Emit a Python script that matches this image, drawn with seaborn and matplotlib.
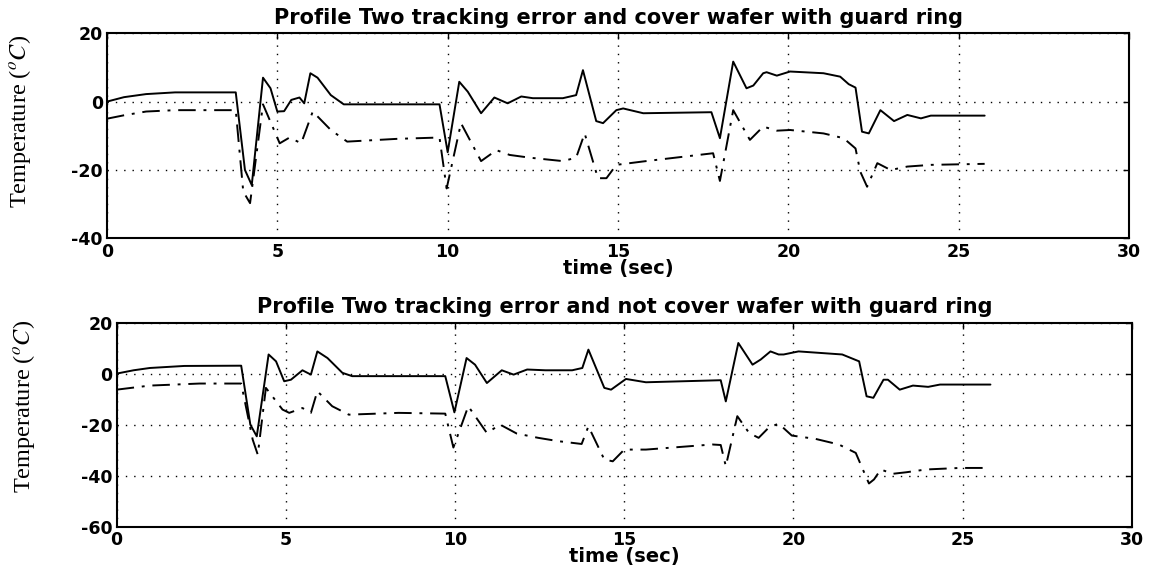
import numpy as np
import pandas as pd
import matplotlib
matplotlib.use("Agg")
import matplotlib.pyplot as plt
import seaborn as sns

# top panel: cover wafer with guard ring
top_solid_t = [0, 0.5, 1.15, 2.0, 3.78, 4.05, 4.25, 4.58, 4.8, 5.0, 5.2, 5.41, 5.65, 5.79, 5.97,
               6.18, 6.57, 6.95, 8.5, 9.76, 10.0, 10.34, 10.59, 10.98, 11.37, 11.76, 12.16, 12.5,
               13.38, 13.77, 13.97, 14.36, 14.56, 14.95, 15.15, 15.74, 17.74, 17.99, 18.38, 18.77,
               18.97, 19.26, 19.36, 19.66, 20.05, 21.03, 21.52, 21.77, 21.97, 22.16, 22.36, 22.7,
               23.1, 23.49, 23.89, 24.18, 25.76]
top_solid_v = [0, 1.3, 2.2, 2.7, 2.7, -20, -24.4, 7.0, 3.9, -2.9, -2.8, 0.5, 1.2, -0.5, 8.3,
               7.0, 1.9, -0.8, -0.8, -0.8, -14.8, 5.8, 2.9, -3.4, 1.2, -0.5, 1.5, 1.0,
               1.0, 1.9, 9.2, -5.7, -6.3, -2.5, -2.0, -3.4, -3.1, -10.7, 11.7, 3.9,
               4.7, 8.3, 8.6, 7.6, 8.8, 8.3, 7.3, 5.1, 4.1, -8.8, -9.3, -2.5,
               -5.7, -3.9, -4.9, -4.1, -4.1]

top_dash_t = [0, 0.5, 1.15, 2.0, 3.78, 4.0, 4.2, 4.58, 5.07, 5.36, 5.7, 6.04, 6.57, 7.05, 8.5,
              9.76, 9.97, 10.39, 10.98, 11.43, 11.82, 12.41, 13.38, 13.77, 14.02, 14.41, 14.66,
              14.95, 15.74, 17.79, 17.99, 18.38, 18.87, 19.26, 19.66, 20.05, 21.03, 21.62, 21.97,
              22.11, 22.31, 22.61, 23.0, 23.49, 24.18, 25.76]
top_dash_v = [-5, -4, -2.9, -2.5, -2.5, -26.3, -29.7, -0.8, -12.2, -10.5, -12.2, -2.9, -8.3, -11.7, -10.9,
              -10.5, -25.4, -6.3, -17.4, -14.2, -15.6, -16.4, -17.4, -16.4, -9.3, -22.4, -22.4,
              -18.5, -17.5, -15.1, -23.2, -2.5, -11.2, -7.3, -8.5, -8.3, -9.3, -10.7, -13.7,
              -20.5, -24.9, -18.0, -20.0, -19.0, -18.5, -18.2]

# bottom panel: not cover wafer with guard ring
bot_solid_t = [0, 0.5, 0.98, 2.0, 3.68, 3.95, 4.14, 4.49, 4.71, 4.95, 5.15, 5.49, 5.74, 5.93, 6.23,
               6.67, 6.96, 8.5, 9.71, 9.98, 10.34, 10.59, 10.94, 11.38, 11.73, 12.13, 12.67, 13.46,
               13.76, 13.94, 14.41, 14.61, 15.05, 15.64, 17.85, 18.0, 18.37, 18.79, 19.03, 19.32,
               19.56, 19.71, 20.15, 21.44, 21.94, 22.16, 22.36, 22.66, 22.79, 23.14, 23.53, 23.98,
               24.33, 25.82]
bot_solid_v = [0, 1.3, 2.2, 3.0, 3.1, -20, -24.6, 7.5, 4.8, -3.0, -2.4, 1.3, -0.4, 8.7, 6.1,
               0.3, -1.0, -1.0, -1.0, -15.2, 6.1, 3.5, -3.7, 1.3, -0.4, 1.6, 1.3, 1.3,
               2.2, 9.4, -5.6, -6.3, -2.1, -3.4, -2.6, -10.9, 12.0, 3.5, 5.5, 8.7,
               7.5, 7.5, 8.7, 7.5, 4.8, -8.9, -9.5, -2.4, -2.4, -6.3, -4.7, -5.2,
               -4.3, -4.3]

bot_dash_t = [0, 0.98, 2.45, 3.68, 4.02, 4.17, 4.41, 4.9, 5.1, 5.49, 5.74, 5.93, 6.37, 6.86, 8.33,
              9.71, 9.95, 10.39, 10.94, 11.33, 11.82, 12.46, 13.05, 13.74, 13.94, 14.41, 14.66,
              15.0, 15.64, 17.6, 17.85, 18.0, 18.34, 18.69, 18.97, 19.26, 19.56, 19.95, 20.65,
              21.34, 21.84, 22.03, 22.23, 22.38, 22.58, 22.93, 23.33, 23.92, 24.92, 25.8]
bot_dash_v = [-6.3, -4.7, -3.9, -3.9, -25.9, -31.8, -5.6, -14.1, -15.4, -13.5, -15.4, -6.9, -12.8, -16.1, -15.4,
              -15.7, -29.0, -12.8, -23.3, -20.0, -23.5, -25.2, -26.5, -27.6, -20.7, -33.7, -34.4,
              -29.8, -29.8, -27.8, -28.0, -36.3, -16.7, -23.3, -25.2, -21.3, -19.6, -24.3, -25.6,
              -27.8, -31.1, -37.0, -43.1, -41.5, -37.6, -39.3, -38.7, -37.6, -37.0, -37.0]

titles = ["Profile Two tracking error and cover wafer with guard ring",
          "Profile Two tracking error and not cover wafer with guard ring"]
ylims = [(-40, 20), (-60, 20)]
yticks = [[-40, -20, 0, 20], [-60, -40, -20, 0, 20]]
xticks = [0, 5, 10, 15, 20, 25, 30]

sns.set_style("white")
plt.rcParams['font.family'] = ['DejaVu Sans']
plt.rcParams['axes.unicode_minus'] = False
plt.rcParams['mathtext.fontset'] = 'stix'
for key in ['text.color', 'axes.labelcolor', 'xtick.color', 'ytick.color']:
    plt.rcParams[key] = 'black'

fig = plt.figure(figsize=(11.55, 5.73), dpi=100)
ax1 = fig.add_axes([0.0926, 0.584, 0.885, 0.358])
ax2 = fig.add_axes([0.101, 0.081, 0.879, 0.356])

panels = [(ax1, top_solid_t, top_solid_v, top_dash_t, top_dash_v),
          (ax2, bot_solid_t, bot_solid_v, bot_dash_t, bot_dash_v)]

for i, (ax, st, sv, dt, dv) in enumerate(panels):
    solid = pd.DataFrame({"t": st, "v": sv})
    dash = pd.DataFrame({"t": dt, "v": dv})
    sns.lineplot(data=solid, x="t", y="v", ax=ax, color="black", lw=1.4,
                 sort=False, estimator=None)
    sns.lineplot(data=dash, x="t", y="v", ax=ax, color="black", lw=1.4,
                 sort=False, estimator=None, dashes=False)
    ax.lines[-1].set_dashes([9, 4, 1.5, 4])
    ax.set_xlim(0, 30)
    ax.set_ylim(*ylims[i])
    ax.set_xticks(xticks)
    ax.set_yticks(yticks[i])
    ax.grid(True, color="black", linestyle=(0, (1, 5)), lw=1.0)
    for s in ax.spines.values():
        s.set_color("black")
        s.set_linewidth(1.5)
    ax.tick_params(direction="in", length=4, width=1, pad=3,
                   right=True, top=True, labelsize=12.5)
    for lab in ax.get_xticklabels() + ax.get_yticklabels():
        lab.set_fontweight("bold")
    ax.set_title(titles[i], fontsize=15, fontweight="bold", pad=7)
    ax.set_xlabel("time (sec)", fontsize=14, fontweight="bold")
    ax.set_ylabel(r"Temperature ($^o C$)", fontsize=17.5, family="Liberation Serif")

ax1.xaxis.set_label_coords(0.5, -0.1)
ax2.xaxis.set_label_coords(0.5, -0.1)
ax1.yaxis.set_label_coords(-0.072, 0.57)
ax2.yaxis.set_label_coords(-0.0785, 0.587)

fig.savefig("out.png", dpi=100)
